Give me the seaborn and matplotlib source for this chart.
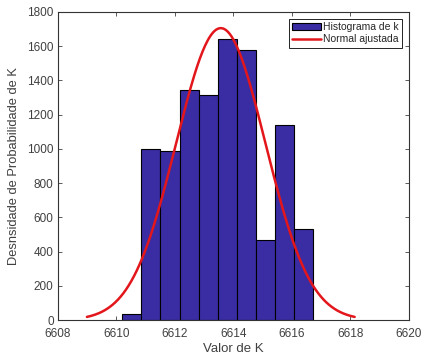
import numpy as np
import pandas as pd
import matplotlib
matplotlib.use("Agg")
import matplotlib.pyplot as plt
import seaborn as sns

# histogram of K (counts per bin)
bin_edges = [6610.20, 6610.86, 6611.50, 6612.16, 6612.81, 6613.47,
             6614.11, 6614.77, 6615.42, 6616.08, 6616.72]
counts = [37, 997, 988, 1346, 1315, 1642, 1578, 469, 1141, 530]

# fitted normal
mu = 6613.57
sigma = 1.525
n_samples = 10000
bin_width = 0.652

sns.set_theme(style="white")
plt.rcParams['font.family'] = ['Liberation Sans', 'DejaVu Sans']

fig = plt.figure(figsize=(4.22, 3.63), dpi=100)
ax = fig.add_axes([0.137, 0.118, 0.832, 0.849])

centers = [(a + b) / 2 for a, b in zip(bin_edges[:-1], bin_edges[1:])]
df = pd.DataFrame({"k": centers, "n": counts})
sns.histplot(data=df, x="k", weights="n", bins=bin_edges, ax=ax,
             color="#3a2da3", alpha=1.0, edgecolor="black", linewidth=0.8,
             label="Histograma de k")

xs = np.linspace(mu - 3 * sigma, mu + 3 * sigma, 200)
ys = n_samples * bin_width / (sigma * np.sqrt(2 * np.pi)) * np.exp(-(xs - mu) ** 2 / (2 * sigma ** 2))
sns.lineplot(x=xs, y=ys, ax=ax, color="#e3161b", linewidth=1.8, label="Normal ajustada")

ax.set_xlim(6608, 6620)
ax.set_ylim(0, 1800)
ax.set_xticks(range(6608, 6621, 2))
ax.set_yticks(range(0, 1801, 200))
ax.set_xlabel("Valor de K", fontsize=9.5, color="#404040", labelpad=2)
ax.set_ylabel("Desnsidade de Probabilidade de K", fontsize=9.3, color="#404040", labelpad=5)
ax.tick_params(direction="in", length=3, width=0.6, colors="#404040", labelsize=8.5,
               top=True, right=True, bottom=True, left=True)
ax.tick_params(axis="x", pad=6)
ax.tick_params(axis="y", pad=3)
for s in ax.spines.values():
    s.set_color("#333333")
    s.set_linewidth(0.8)

handles, labels = ax.get_legend_handles_labels()
order = [labels.index("Histograma de k"), labels.index("Normal ajustada")]
leg = ax.legend([handles[i] for i in order], [labels[i] for i in order],
                loc="upper right", fontsize=7.5, frameon=True, fancybox=False,
                edgecolor="black", framealpha=1, borderpad=0.3, handlelength=2.8,
                handletextpad=0.2, borderaxespad=0.7, labelspacing=0.2)
leg.get_frame().set_linewidth(0.6)

fig.savefig("out.png", dpi=100, facecolor="white")
